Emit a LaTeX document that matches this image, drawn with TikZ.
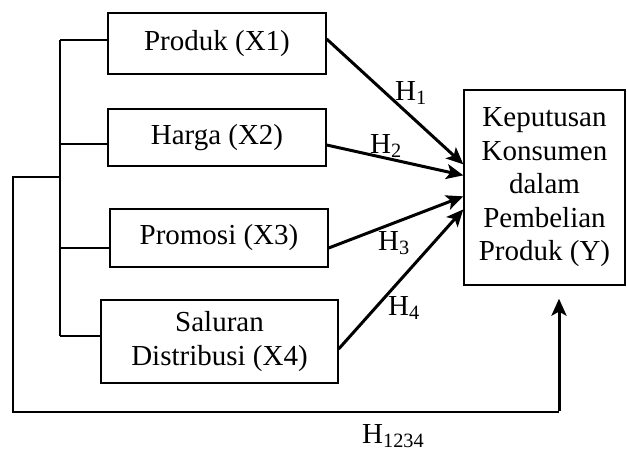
\documentclass[tikz,border=0pt]{standalone}
\usepackage{fontspec}
\setmainfont{Liberation Serif}
\usetikzlibrary{arrows.meta,calc}
\begin{document}
\begin{tikzpicture}[x=1pt,y=-1pt,
  font=\fontsize{29}{33.5}\selectfont,
  box/.style={draw,line width=1.3pt,inner sep=0pt,align=center},
  wire/.style={line width=1.4pt},
  arr/.style={line width=3pt,-{Stealth[length=17pt,width=15pt,inset=4pt]}},
  lab/.style={anchor=base west,inner sep=0pt}]
\useasboundingbox (0,0) rectangle (627,452);
% boxes
\node[box,minimum width=218pt,minimum height=61pt] (x1) at (217,43.5) {Produk (X1)};
\node[box,minimum width=218pt,minimum height=57pt] (x2) at (217,137.5) {Harga (X2)};
\node[box,minimum width=218pt,minimum height=58pt] (x3) at (219,238) {Promosi (X3)};
\node[box,minimum width=237pt,minimum height=83pt] (x4) at (219.5,341.5) {Saluran\\Distribusi (X4)};
\node[box,minimum width=161pt,minimum height=195pt] (y) at (544.5,187.5) {Keputusan\\Konsumen\\dalam\\Pembelian\\Produk (Y)};
% bus
\coordinate (b1) at (60,40);
\coordinate (b2) at (60,144);
\coordinate (b3) at (60,248);
\coordinate (b4) at (60,336);
\draw[wire] (b1) -- (b4);
\draw[wire] (b1) -- (b1 -| x1.west);
\draw[wire] (b2) -- (b2 -| x2.west);
\draw[wire] (b3) -- (b3 -| x3.west);
\draw[wire] (b4) -- (b4 -| x4.west);
% outer loop
\coordinate (o1) at (60,177);
\coordinate (o2) at (13,177);
\coordinate (o3) at (13,412);
\coordinate (o4) at (559,412);
\draw[wire,line join=miter] (o1) -- (o2) -- (o3) -- (o4);
\draw[arr] ([yshift=0.7pt]o4) -- ([yshift=-13pt]y.south -| o4);
% arrows
\coordinate (t1) at ($(y.north west)+(0,75)$);
\coordinate (t2) at ($(y.north west)+(0,86)$);
\coordinate (t3) at ($(y.north west)+(0,107)$);
\coordinate (t4) at ($(y.north west)+(0,120)$);
\draw[arr] ([yshift=4.5pt]x1.east) -- (t1);
\draw[arr] ([yshift=-7.5pt]x2.east) -- (t2);
\draw[arr] ([yshift=-10pt]x3.east) -- (t3);
\draw[arr] ([yshift=-7.5pt]x4.east) -- (t4);
% labels
\node[lab] (h1) at (395,100) {H\textsubscript{1}};
\node[lab] (h2) at (370,153) {H\textsubscript{2}};
\node[lab] (h3) at (378,250) {H\textsubscript{3}};
\node[lab] (h4) at (388,315) {H\textsubscript{4}};
\node[lab] (h5) at (362,443) {H\textsubscript{1234}};
\end{tikzpicture}
\end{document}
